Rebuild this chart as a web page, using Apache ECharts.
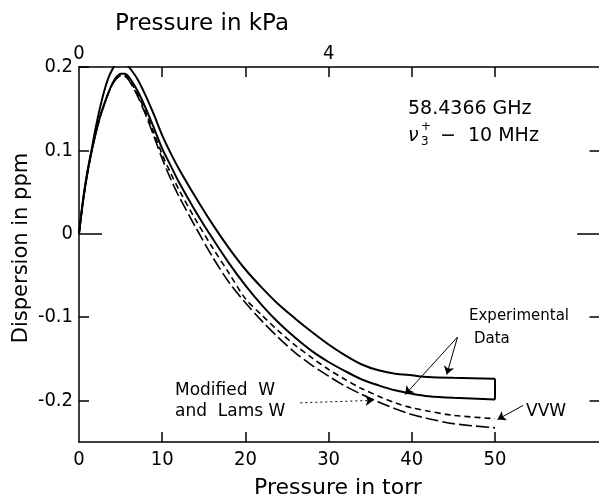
<!DOCTYPE html>
<html>
<head>
<meta charset="utf-8">
<script src="https://cdn.jsdelivr.net/npm/echarts@6/dist/echarts.min.js"></script>
<style>
  html, body { margin: 0; padding: 0; background: #fff; }
  #chart { width: 599px; height: 500px; }
</style>
</head>
<body>
<div id="chart"></div>
<script>
var chart = echarts.init(document.getElementById('chart'));

// data: [pressure in torr, dispersion in ppm]
var expUpper = [[0,0],[0.5,0.042],[1,0.074],[1.5,0.1],[2,0.127],[2.5,0.15],[3,0.17],[3.5,0.186],[4,0.197],[4.5,0.204],[5,0.206],[5.5,0.205],[6,0.2],[7,0.186],[8,0.166],[9,0.143],[10,0.118],[11,0.097],[12,0.078],[14,0.044],[16,0.012],[18,-0.017],[20,-0.043],[22,-0.065],[24,-0.085],[26,-0.102],[28,-0.118],[30,-0.133],[32,-0.146],[34,-0.157],[36,-0.164],[38,-0.168],[40,-0.17],[42,-0.172],[45,-0.173],[50,-0.174]];
var expLower = [[0,0],[0.5,0.04],[1,0.072],[1.5,0.098],[2,0.12],[2.5,0.139],[3,0.154],[3.5,0.168],[4,0.18],[4.5,0.188],[5,0.192],[5.5,0.192],[6,0.188],[7,0.172],[8,0.151],[9,0.127],[10,0.102],[11,0.082],[12,0.062],[14,0.027],[16,-0.005],[18,-0.035],[20,-0.062],[22,-0.086],[24,-0.107],[26,-0.125],[28,-0.141],[30,-0.154],[32,-0.165],[34,-0.175],[36,-0.182],[38,-0.188],[40,-0.192],[42,-0.195],[45,-0.197],[50,-0.199]];
var vvwShort = [[0,0],[0.5,0.04],[1,0.072],[1.5,0.098],[2,0.12],[2.5,0.139],[3,0.155],[3.5,0.168],[4,0.179],[4.5,0.186],[5,0.19],[5.5,0.19],[6,0.185],[7,0.168],[8,0.146],[9,0.121],[10,0.095],[11,0.073],[12,0.053],[14,0.017],[16,-0.016],[18,-0.047],[20,-0.078],[22,-0.098],[24,-0.117],[26,-0.134],[28,-0.149],[30,-0.163],[32,-0.175],[34,-0.186],[36,-0.195],[38,-0.203],[40,-0.209],[42,-0.213],[45,-0.218],[50,-0.222]];
var lamsLong = [[0,0],[0.5,0.04],[1,0.072],[1.5,0.098],[2,0.12],[2.5,0.139],[3,0.155],[3.5,0.168],[4,0.179],[4.5,0.186],[5,0.19],[5.5,0.189],[6,0.184],[7,0.166],[8,0.143],[9,0.117],[10,0.09],[11,0.066],[12,0.045],[14,0.008],[16,-0.027],[18,-0.058],[20,-0.083],[22,-0.105],[24,-0.125],[26,-0.143],[28,-0.158],[30,-0.171],[32,-0.183],[34,-0.193],[36,-0.202],[38,-0.21],[40,-0.217],[42,-0.222],[45,-0.228],[50,-0.233]];
var expEndCap = [[50,-0.174],[50,-0.199]];

// annotation arrows, [from, to] in data units
var arrowDataUpper = [[45.5,-0.124],[44.2,-0.169]];
var arrowDataLower = [[45.5,-0.124],[39.2,-0.193]];
var arrowLams = [[26.6,-0.203],[35.4,-0.2]];
var arrowVvw = [[53.4,-0.206],[50.3,-0.223]];

var xTicks = [0, 10, 20, 30, 40, 50];
var yTicks = [-0.2, -0.1, 0, 0.1, 0.2];
var kpaLabels = {0: '0', 30: '4'};

var X_MIN = 0, X_MAX = 62.5, Y_MIN = -0.25, Y_MAX = 0.2;
var GRID_W = 520, GRID_H = 375;
// tick lengths expressed in axis units (10 px on each axis)
var TICK_X = 10 * (X_MAX - X_MIN) / GRID_W;
var TICK_Y = 10 * (Y_MAX - Y_MIN) / GRID_H;

var numFont = '"Liberation Sans Narrow", "DejaVu Sans Condensed", sans-serif';
var txtFont = '"DejaVu Sans", sans-serif';
var black = { color: '#000', width: 1.5 };

function arrow(pair, dotted, curve) {
    return [{
        coord: pair[0],
        symbol: 'none',
        lineStyle: { type: dotted ? [2, 3] : 'solid', curveness: curve || 0 }
    }, {
        coord: pair[1],
        symbol: 'arrow'
    }];
}

function seg(a, b) {
    return [{ coord: a, symbol: 'none' }, { coord: b, symbol: 'none' }];
}

// inward tick marks as short segments on the axis scales
var tickLines = [];
yTicks.forEach(function (v) {
    var kx = v === 0 ? 2.3 : 1;
    tickLines.push(seg([X_MIN, v], [X_MIN + kx * TICK_X, v]));
    if (v < Y_MAX) tickLines.push(seg([X_MAX, v], [X_MAX - kx * TICK_X * 0.95, v]));
});
xTicks.slice(1).forEach(function (v) {
    tickLines.push(seg([v, Y_MIN], [v, Y_MIN + TICK_Y]));
    tickLines.push(seg([v, Y_MAX], [v, Y_MAX - TICK_Y]));
});

function xAxisOpt(pos, labelVals, margin, fmt) {
    return {
        type: 'value', position: pos, min: X_MIN, max: X_MAX,
        axisLine: { show: true, onZero: false, lineStyle: black },
        axisTick: { show: false },
        axisLabel: { show: true, customValues: labelVals, color: '#000', fontSize: 20, fontFamily: numFont, margin: margin, formatter: fmt },
        splitLine: { show: false }
    };
}

var option = {
    animation: false,
    grid: { left: 79, right: 0, top: 67, bottom: 58 },
    xAxis: [
        xAxisOpt('bottom', xTicks, 8, function (v) { return String(v); }),
        xAxisOpt('top', [0, 30], 3, function (v) { return kpaLabels[v]; })
    ],
    yAxis: [{
        type: 'value', position: 'left', min: Y_MIN, max: Y_MAX,
        axisLine: { show: true, onZero: false, lineStyle: black },
        axisTick: { show: false },
        axisLabel: { show: true, customValues: yTicks, color: '#000', fontSize: 20, fontFamily: numFont, margin: 6 },
        splitLine: { show: false }
    }],
    series: [{
        name: 'Experimental upper', type: 'line', data: expUpper, smooth: 0.3,
        symbol: 'none', lineStyle: { color: '#000', width: 2 }
    }, {
        name: 'Experimental lower', type: 'line', data: expLower, smooth: 0.3,
        symbol: 'none', lineStyle: { color: '#000', width: 2 }
    }, {
        name: 'VVW', type: 'line', data: vvwShort, smooth: 0.3,
        symbol: 'none', lineStyle: { color: '#000', width: 1.6, type: [6, 4] }
    }, {
        name: 'Modified W and Lams W', type: 'line', data: lamsLong, smooth: 0.3,
        symbol: 'none', lineStyle: { color: '#000', width: 1.6, type: [13, 4] }
    }, {
        name: 'end', type: 'line', data: expEndCap,
        symbol: 'none', lineStyle: { color: '#000', width: 2 },
        markLine: {
            silent: true, symbolSize: 8,
            label: { show: false },
            lineStyle: { color: '#000', width: 1 },
            data: [
                arrow(arrowDataUpper, false, 0),
                arrow(arrowDataLower, false, 0),
                arrow(arrowLams, true, -0.15),
                arrow(arrowVvw, false, 0)
            ]
        }
    }, {
        name: 'ticks', type: 'line', data: [],
        markLine: {
            silent: true, symbol: 'none',
            label: { show: false },
            lineStyle: { color: '#000', width: 1.5, type: 'solid' },
            data: tickLines
        }
    }],
    graphic: [
        { type: 'text', x: 202, y: 24, style: { text: 'Pressure in kPa', font: '23px ' + txtFont, fill: '#000', textAlign: 'center', textVerticalAlign: 'middle' } },
        { type: 'text', x: 338, y: 488, style: { text: 'Pressure in torr', font: '22px ' + txtFont, fill: '#000', textAlign: 'center', textVerticalAlign: 'middle' } },
        { type: 'text', x: 22, y: 248, rotation: Math.PI / 2, style: { text: 'Dispersion in ppm', font: '21px ' + txtFont, fill: '#000', textAlign: 'center', textVerticalAlign: 'middle' } },
        { type: 'text', left: 408, top: 100, style: { text: '58.4366 GHz', font: '19px ' + txtFont, fill: '#000' } },
        { type: 'text', left: 408, top: 127, style: { text: 'ν', font: 'italic 19px ' + txtFont, fill: '#000' } },
        { type: 'text', left: 421, top: 121, style: { text: '+', font: '12px ' + txtFont, fill: '#000' } },
        { type: 'text', left: 421, top: 136, style: { text: '3', font: '12px ' + txtFont, fill: '#000' } },
        { type: 'text', left: 440, top: 127, style: { text: '−  10 MHz', font: '19px ' + txtFont, fill: '#000' } },
        { type: 'text', left: 469, top: 309, style: { text: 'Experimental', font: '15px ' + txtFont, fill: '#000' } },
        { type: 'text', left: 474, top: 332, style: { text: 'Data', font: '15px ' + txtFont, fill: '#000' } },
        { type: 'text', left: 175, top: 382, style: { text: 'Modified  W', font: '17px ' + txtFont, fill: '#000' } },
        { type: 'text', left: 175, top: 403, style: { text: 'and  Lams W', font: '17px ' + txtFont, fill: '#000' } },
        { type: 'text', left: 526, top: 403, style: { text: 'VVW', font: '17px ' + txtFont, fill: '#000' } }
    ]
};
chart.setOption(option);
window.onresize = function () {
    chart.resize();
};
</script>
</body>
</html>
